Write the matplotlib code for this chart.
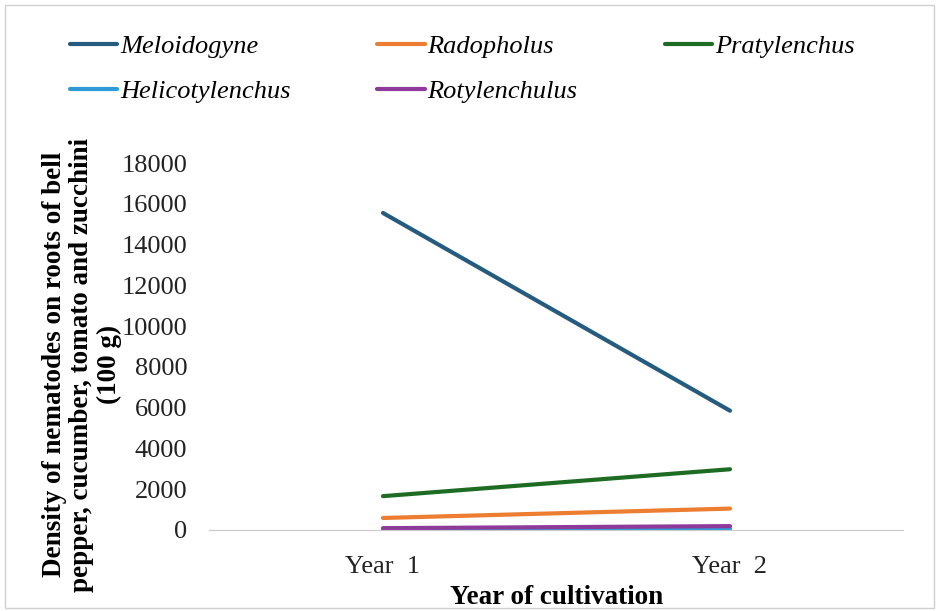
import matplotlib.pyplot as plt
from matplotlib.patches import Rectangle

# data
years = ['Year  1', 'Year  2']
meloidogyne = [15550, 5850]
radopholus = [590, 1050]
pratylenchus = [1660, 2980]
helicotylenchus = [30, 60]
rotylenchulus = [90, 190]

series = [
    ('Meloidogyne', meloidogyne, '#245B7E'),
    ('Radopholus', radopholus, '#ED7D31'),
    ('Pratylenchus', pratylenchus, '#1E6B24'),
    ('Helicotylenchus', helicotylenchus, '#2E9BD6'),
    ('Rotylenchulus', rotylenchulus, '#8E3A9A'),
]

plt.rcParams['font.family'] = ['Liberation Serif', 'DejaVu Serif']

fig = plt.figure(figsize=(9.37, 6.11), dpi=100)
ax = fig.add_axes([209.5 / 937, 81 / 611, 694 / 937, 367 / 611])

x = range(len(years))
for name, vals, col in series:
    ax.plot(x, vals, color=col, lw=3, label=name, solid_capstyle='round')

ax.set_xlim(-0.5, 1.5)
ax.set_ylim(0, 18000)
ax.set_yticks(range(0, 18001, 2000))
ax.set_xticks(list(x))
ax.set_xticklabels(years)
ax.tick_params(axis='both', length=0, labelsize=19, colors='#222222')
ax.tick_params(axis='y', pad=16)
ax.tick_params(axis='x', pad=19)
for s in ['top', 'right', 'left']:
    ax.spines[s].set_visible(False)
ax.spines['bottom'].set_color('#c8c8c8')

ax.set_xlabel('Year of cultivation', fontsize=19.5, fontweight='bold', labelpad=5)
ax.set_ylabel('Density of nematodes on roots of bell\npepper, cucumber, tomato and zucchini\n(100 g)',
              fontsize=19.5, fontweight='bold', linespacing=1.12)
ax.yaxis.set_label_coords(-88 / 694, 0.45)

handles, labels = ax.get_legend_handles_labels()
order = [0, 3, 1, 4, 2]
leg = fig.legend([handles[i] for i in order], [labels[i] for i in order],
                 loc='upper left', bbox_to_anchor=(46 / 937, 1 - 11 / 611),
                 ncol=3, frameon=False, handlelength=1.8, handletextpad=0.1,
                 columnspacing=3.3, labelspacing=0.82,
                 prop={'style': 'italic', 'size': 19})

fig.patches.append(Rectangle((5 / 937, 3 / 611), 929 / 937, 603 / 611,
                             transform=fig.transFigure, fill=False,
                             edgecolor='#d0d0d0', lw=1))

plt.savefig('out.png', dpi=100)
